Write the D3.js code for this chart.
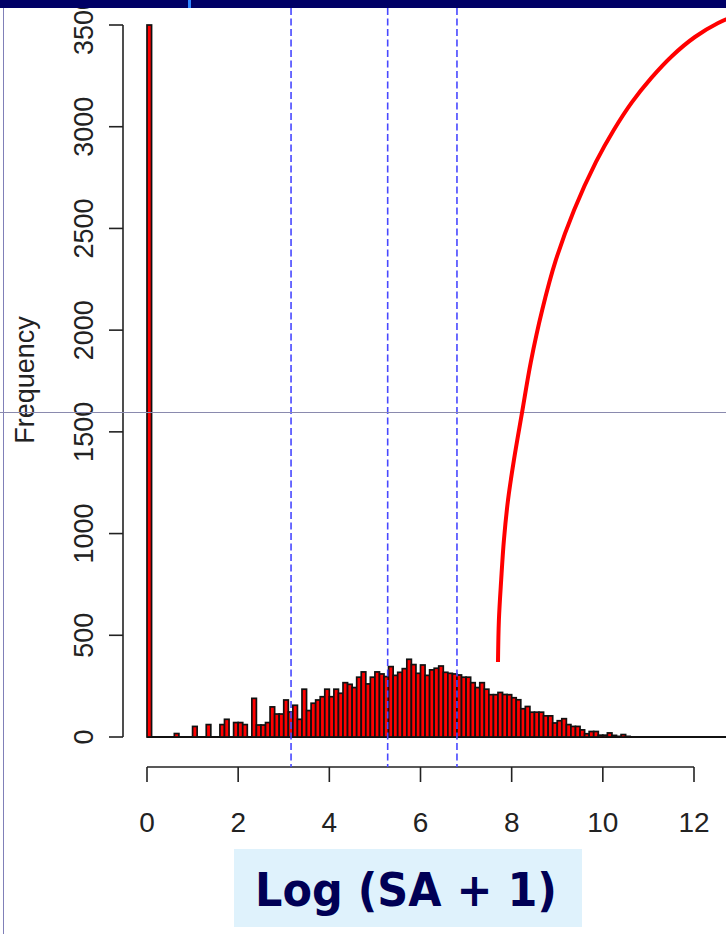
<!DOCTYPE html>
<meta charset="utf-8">
<style>
body { margin: 0; background: #fff; }
svg { display: block; }
.tick-lab { font-family: "Liberation Sans Narrow", "Liberation Sans", Arial, sans-serif; fill: #222; }
</style>
<body>
<svg width="726" height="934" id="vis"></svg>
</body>
<script src="https://d3js.org/d3.v7.min.js"></script>
<script>
// histogram counts, bins of width 0.1 starting at 0
var binWidth = 0.1;
var counts = [
  3500, 0, 0, 0, 0, 0, 17, 0, 0, 0,
  52, 0, 0, 61, 0, 0, 61, 87, 0, 71,
  71, 61, 0, 190, 59, 59, 71, 148, 113, 113,
  182, 123, 156, 87, 235, 130, 166, 182, 198, 235,
  198, 235, 215, 267, 259, 243, 294, 320, 261, 294,
  320, 310, 297, 346, 303, 318, 336, 382, 356, 313,
  354, 303, 330, 338, 349, 318, 313, 310, 305, 294,
  294, 267, 243, 267, 235, 208, 208, 219, 209, 208,
  193, 183, 139, 150, 122, 122, 122, 104, 104, 69,
  80, 90, 61, 52, 52, 35, 16, 27, 27, 9,
  9, 20, 8, 3, 12, 3
];
var xTicks = [0, 2, 4, 6, 8, 10, 12];
var yTicks = [0, 500, 1000, 1500, 2000, 2500, 3000, 3500];
var cutoffs = [3.16, 5.28, 6.80];

// red annotation curve (data units)
var curveX = [7.70, 7.72, 7.77, 7.83, 7.92, 8.05, 8.23, 8.42, 8.67, 8.97, 9.37, 9.85, 10.24, 10.64, 11.06, 11.52, 12.02, 12.53, 13.01];
var curveY = [369, 575, 772, 968, 1165, 1362, 1598, 1843, 2099, 2345, 2591, 2827, 2984, 3121, 3239, 3348, 3441, 3510, 3554];

var svg = d3.select("svg");

var x = d3.scaleLinear().domain([0, 12]).range([147, 694]);
var y = d3.scaleLinear().domain([0, 3500]).range([737, 25]);

// slide decorations
svg.append("line").attr("x1", 3.5).attr("x2", 3.5).attr("y1", 8).attr("y2", 934)
  .attr("stroke", "#8080b8").attr("stroke-width", 1);

// baseline of zero bins
svg.append("line")
  .attr("x1", x(0)).attr("x2", 726)
  .attr("y1", y(0)).attr("y2", y(0))
  .attr("stroke", "#111").attr("stroke-width", 1.8);

// bars
svg.selectAll("rect.bar").data(counts).enter().append("rect")
  .attr("class", "bar")
  .attr("x", function(d, i) { return x(i * binWidth); })
  .attr("y", function(d) { return y(d); })
  .attr("width", x(binWidth) - x(0))
  .attr("height", function(d) { return y(0) - y(d); })
  .attr("fill", "#f00")
  .attr("stroke", "#111")
  .attr("stroke-width", 1.7);

// y axis
var ya = svg.append("g");
ya.append("line").attr("x1", 123).attr("x2", 123).attr("y1", y(0)).attr("y2", y(3500))
  .attr("stroke", "#222").attr("stroke-width", 1.6);
ya.selectAll("line.t").data(yTicks).enter().append("line").attr("class", "t")
  .attr("x1", 109).attr("x2", 123)
  .attr("y1", function(d) { return y(d); }).attr("y2", function(d) { return y(d); })
  .attr("stroke", "#222").attr("stroke-width", 1.6);
ya.selectAll("text").data(yTicks).enter().append("text").attr("class", "tick-lab")
  .attr("transform", function(d) { return "translate(93," + y(d) + ") rotate(-90)"; })
  .attr("text-anchor", "middle")
  .style("font-size", "27px")
  .text(function(d) { return d; });

svg.append("text").attr("class", "tick-lab")
  .attr("transform", "translate(34,380) rotate(-90)")
  .attr("text-anchor", "middle")
  .style("font-family", "'Liberation Sans', Arial, sans-serif")
  .style("font-size", "27px")
  .text("Frequency");

// x axis
var xa = svg.append("g");
xa.append("line").attr("x1", x(0)).attr("x2", x(12)).attr("y1", 767).attr("y2", 767)
  .attr("stroke", "#222").attr("stroke-width", 1.6);
xa.selectAll("line.t").data(xTicks).enter().append("line").attr("class", "t")
  .attr("x1", function(d) { return x(d); }).attr("x2", function(d) { return x(d); })
  .attr("y1", 767).attr("y2", 782)
  .attr("stroke", "#222").attr("stroke-width", 1.6);
xa.selectAll("text").data(xTicks).enter().append("text").attr("class", "tick-lab")
  .attr("x", function(d) { return x(d); })
  .attr("y", 832)
  .attr("text-anchor", "middle")
  .style("font-size", "28px")
  .text(function(d) { return d; });

// dashed cut-off lines
svg.selectAll("line.cut").data(cutoffs).enter().append("line").attr("class", "cut")
  .attr("x1", function(d) { return x(d); }).attr("x2", function(d) { return x(d); })
  .attr("y1", 8).attr("y2", 767)
  .attr("stroke", "#4848ff").attr("stroke-width", 1.6)
  .attr("stroke-dasharray", "7,3.5");

// grey guide line across the slide
svg.append("line").attr("x1", 0).attr("x2", 726).attr("y1", 412.5).attr("y2", 412.5)
  .attr("stroke", "#8a8aae").attr("stroke-width", 1);

// red curve
var pts = curveX.map(function(d, i) { return [d, curveY[i]]; });
svg.append("path")
  .datum(pts)
  .attr("d", d3.line()
    .x(function(d) { return x(d[0]); })
    .y(function(d) { return y(d[1]); })
    .curve(d3.curveCatmullRom.alpha(0.5)))
  .attr("fill", "none")
  .attr("stroke", "#ff0000")
  .attr("stroke-width", 4);

// top band
svg.append("rect").attr("x", 0).attr("y", 0).attr("width", 726).attr("height", 8).attr("fill", "#000066");
svg.append("rect").attr("x", 188).attr("y", 0).attr("width", 3).attr("height", 8).attr("fill", "#2f86ff");

// axis title box
svg.append("rect").attr("x", 234).attr("y", 849).attr("width", 348).attr("height", 78).attr("fill", "#dff2fc");
svg.append("text")
  .attr("x", 406).attr("y", 906)
  .attr("text-anchor", "middle")
  .attr("textLength", 302).attr("lengthAdjust", "spacingAndGlyphs")
  .style("font-family", "'DejaVu Sans', sans-serif")
  .style("font-weight", "bold")
  .style("font-size", "46px")
  .style("fill", "#000055")
  .text("Log (SA + 1)");
</script>
